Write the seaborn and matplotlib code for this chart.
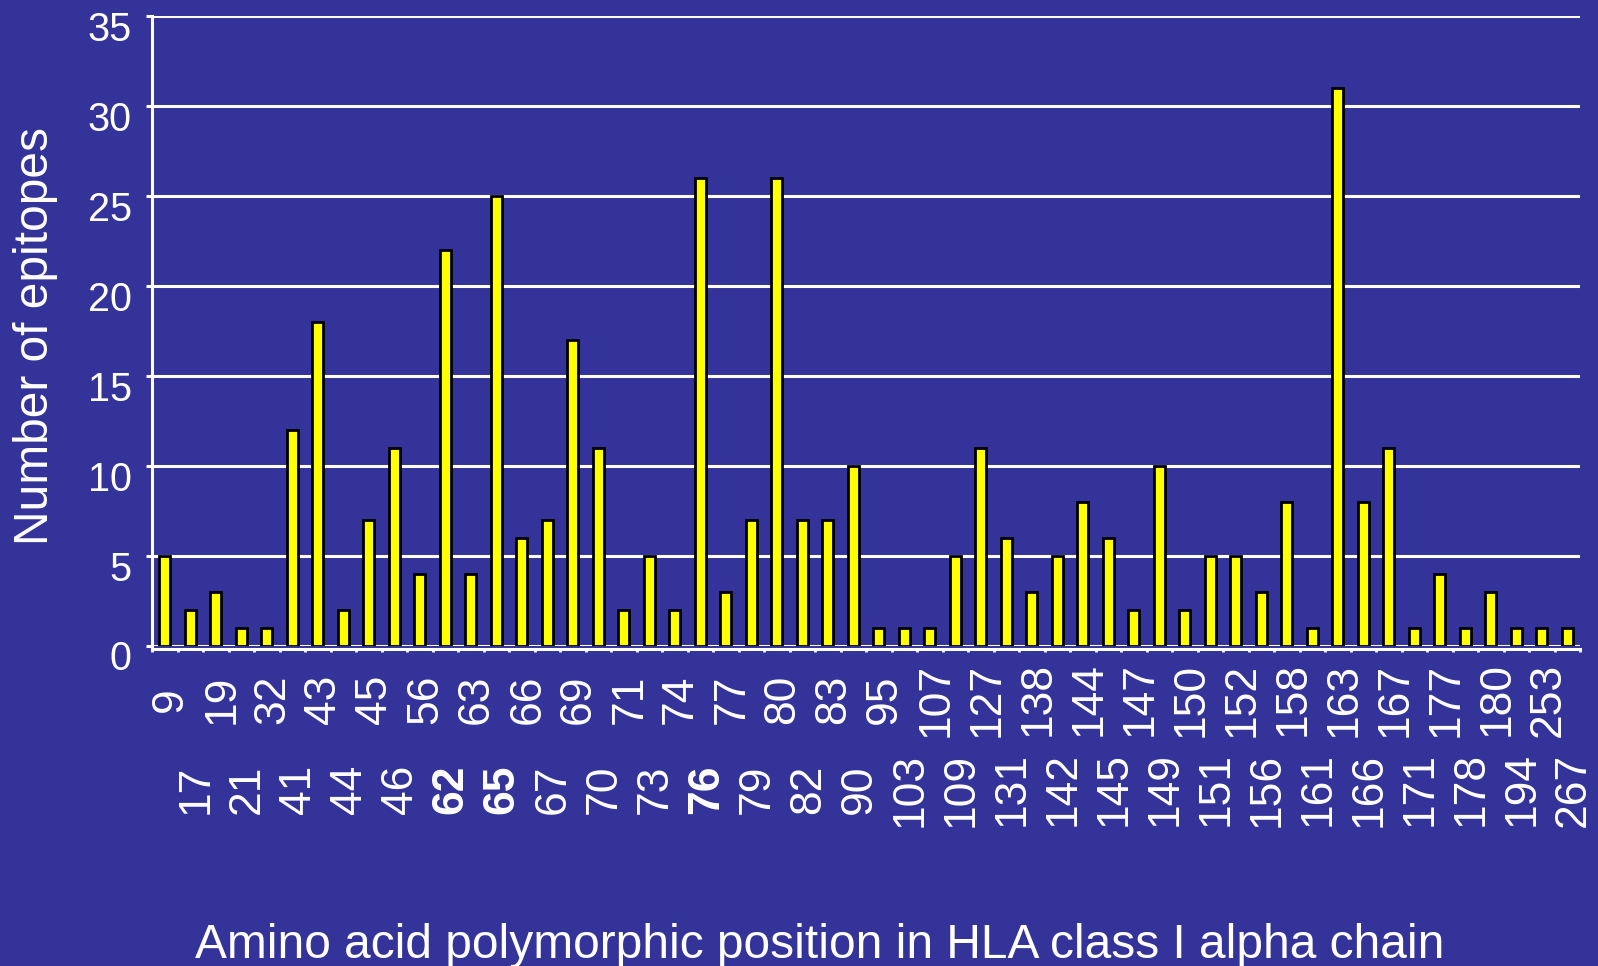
import matplotlib
matplotlib.use("Agg")
import matplotlib.pyplot as plt
import matplotlib.transforms as mtransforms
import seaborn as sns
import pandas as pd

positions = ["9", "17", "19", "21", "32", "41", "43", "44", "45", "46",
             "56", "62", "63", "65", "66", "67", "69", "70", "71", "73",
             "74", "76", "77", "79", "80", "82", "83", "90", "95", "103",
             "107", "109", "127", "131", "138", "142", "144", "145", "147", "149",
             "150", "151", "152", "156", "158", "161", "163", "166", "167", "171",
             "177", "178", "180", "194", "253", "267"]
epitopes = [5, 2, 3, 1, 1, 12, 18, 2, 7, 11,
            4, 22, 4, 25, 6, 7, 17, 11, 2, 5,
            2, 26, 3, 7, 26, 7, 7, 10, 1, 1,
            1, 5, 11, 6, 3, 5, 8, 6, 2, 10,
            2, 5, 5, 3, 8, 1, 31, 8, 11, 1,
            4, 1, 3, 1, 1, 1]
bold_positions = ["62", "65", "76"]
y_ticks = [0, 5, 10, 15, 20, 25, 30, 35]
x_title = "Amino acid polymorphic position in HLA class I alpha chain"
y_title = "Number of epitopes"

BG = "#333399"
sns.set_theme(style="white")
plt.rcParams["font.family"] = ["Liberation Sans", "DejaVu Sans"]

df = pd.DataFrame({"pos": positions, "n": epitopes})

W, H = 1598, 966
fig = plt.figure(figsize=(W / 100, H / 100), dpi=100, facecolor=BG)
left, right, top, bottom = 152, 1580, 16.3, 646
ax = fig.add_axes([left / W, 1 - bottom / H, (right - left) / W, (bottom - top) / H])
ax.set_facecolor(BG)

sns.barplot(data=df, x="pos", y="n", order=positions, color="#FFFF00",
            saturation=1, edgecolor="black", linewidth=2, width=0.45, ax=ax, zorder=3)

ax.set_xlim(-0.5, len(positions) - 0.5)
ax.set_ylim(0, 35)
ax.set_yticks(y_ticks)
ax.grid(axis="y", color="white", linewidth=2.2, zorder=0)
ax.set_axisbelow(True)

for s in ["top", "right"]:
    ax.spines[s].set_visible(False)
for s in ["left", "bottom"]:
    ax.spines[s].set_color("white")
    ax.spines[s].set_linewidth(2.2)
ax.spines["bottom"].set_position(("outward", 2.5))

# y ticks
ax.tick_params(axis="y", which="major", left=True, length=4.5, width=2.2, color="white",
               labelcolor="white", labelsize=28.5, pad=10)
for lab in ax.get_yticklabels():
    lab.set_transform(lab.get_transform() + mtransforms.ScaledTranslation(0, -0.095, fig.dpi_scale_trans))

# x ticks: minor boundary ticks, major labels in two staggered rows
ax.set_xticks([i - 0.5 for i in range(len(positions) + 1)], minor=True)
ax.tick_params(axis="x", which="minor", bottom=True, length=2.5, width=2, color="white")
ax.set_xticks(range(len(positions)))
ax.set_xticklabels(positions, rotation=90, va="center", ha="center")
ax.tick_params(axis="x", which="major", bottom=False, length=0, labelcolor="white",
               labelsize=32, pad=36)
for i, lab in enumerate(ax.get_xticklabels()):
    dy = -0.90 if i % 2 == 1 else 0.0
    lab.set_transform(lab.get_transform() + mtransforms.ScaledTranslation(0.06, dy, fig.dpi_scale_trans))
    if lab.get_text() in bold_positions:
        lab.set_fontweight("bold")

ax.set_xlabel(x_title, color="white", fontsize=34.5, va="baseline")
ax.xaxis.set_label_coords((820 - left) / (right - left), -(958 - bottom) / (bottom - top))
ax.set_ylabel(y_title, color="white", fontsize=34.5, va="center")
ax.yaxis.set_label_coords((36 - left) / (right - left), (bottom - 336) / (bottom - top))

fig.savefig("out.png", dpi=100, facecolor=BG)
